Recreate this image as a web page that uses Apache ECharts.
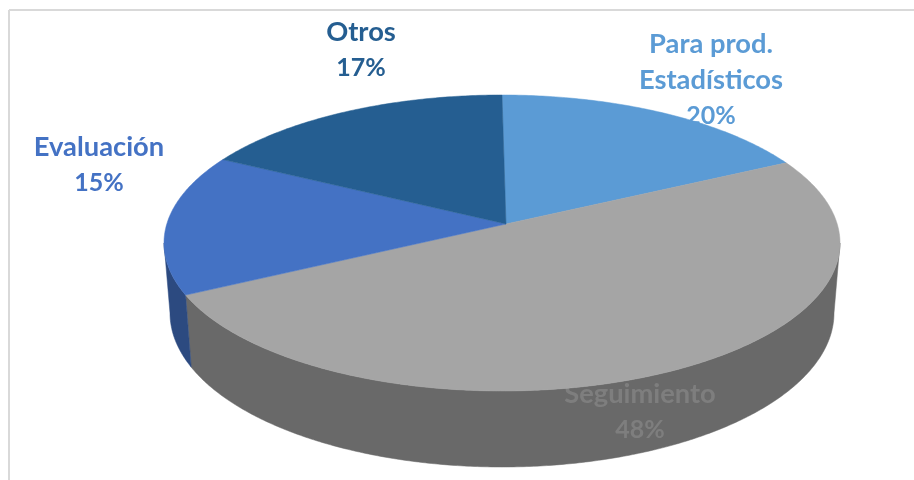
<!DOCTYPE html>
<html>
<head>
<meta charset="utf-8">
<style>html,body{margin:0;padding:0;background:#fff}#c{width:914px;height:480px}</style>
<script src="https://cdn.jsdelivr.net/npm/echarts@6/dist/echarts.min.js"></script>
</head>
<body>
<div id="c"></div>
<script>
const categories = ['Para prod.\nEstadísticos', 'Seguimiento', 'Evaluación', 'Otros'];
const percentages = [20, 48, 15, 17];

const faceColors = ['#5b9bd5', '#a5a5a5', '#4472c4', '#255e91'];
const wallColors = ['#3f6f9c', '#696969', '#2c4a80', '#1a4266'];
const labelColors = ['#5b9bd5', 'rgba(165,165,165,0.35)', '#4472c4', '#255e91'];
const labelCentres = [[711, 80], [640, 412], [99, 165], [361, 50]];

const total = percentages.reduce(function (a, b) { return a + b; }, 0);
const topRim = { cx: 502, cy: 243, rx: 338, ry: 148 };
const lowRim = { cx: 502, cy: 313, rx: 332, ry: 154 };
const apex = [506, 224];
// smooth perspective warp from the pie's own angle to the angle round the drawn ellipse
const warpP = -0.2213, warpQ = -0.1103, warpR = 0.0483;

function warp(a) {
  return a + warpP * Math.sin(a) + warpQ * (1 - Math.cos(a)) + warpR * Math.sin(2 * a);
}
function rimPoint(rim, phi) {
  return [rim.cx + rim.rx * Math.sin(phi), rim.cy - rim.ry * Math.cos(phi)];
}
function rimPath(rim, from, to) {
  const pts = [], steps = Math.max(2, Math.ceil(Math.abs(to - from) / 0.01));
  for (let i = 0; i <= steps; i++) pts.push(rimPoint(rim, from + (to - from) * i / steps));
  return pts;
}
function renderSlice(params, api) {
  const i = params.dataIndex;
  let before = 0;
  for (let k = 0; k < i; k++) before += percentages[k];
  const a0 = warp(before / total * 2 * Math.PI);
  const a1 = warp((before + api.value(0)) / total * 2 * Math.PI);
  const children = [];
  const w0 = Math.max(a0, Math.PI / 2), w1 = Math.min(a1, 3 * Math.PI / 2);
  if (w1 > w0) {
    const wall = rimPath(topRim, w0, w1).concat(rimPath(lowRim, w1, w0));
    children.push({ type: 'polygon', z2: 1, shape: { points: wall },
      style: { fill: wallColors[i], stroke: wallColors[i], lineWidth: 0.5 } });
  }
  const face = [apex].concat(rimPath(topRim, a0, a1));
  children.push({ type: 'polygon', z2: 2, shape: { points: face },
    style: { fill: faceColors[i], stroke: faceColors[i], lineWidth: 0.5 } });
  const nameLines = categories[i].split('\n').map(function (s) { return '{n|' + s + '}'; });
  children.push({ type: 'text', z2: 5, x: labelCentres[i][0], y: labelCentres[i][1],
    style: { text: nameLines.join('\n') + '\n{p|' + api.value(0) + '%}', fill: labelColors[i],
      align: 'center', verticalAlign: 'middle',
      rich: {
        n: { font: 'bold 27.3px Lato', lineHeight: 36, fill: labelColors[i] },
        p: { font: 'bold 25px Lato', lineHeight: 36, fill: labelColors[i] }
      } } });
  return { type: 'group', children: children };
}

const chart = echarts.init(document.getElementById('c'), null, { renderer: 'canvas' });
chart.setOption({
  animation: false,
  backgroundColor: '#ffffff',
  graphic: [
    { type: 'line', shape: { x1: 9, y1: 10, x2: 914, y2: 10 }, style: { stroke: '#d9d9d9', lineWidth: 2 } },
    { type: 'line', shape: { x1: 9, y1: 10, x2: 9, y2: 480 }, style: { stroke: '#d9d9d9', lineWidth: 2 } }
  ],
  series: [{
    type: 'custom',
    coordinateSystem: 'none',
    renderItem: renderSlice,
    data: percentages.map(function (v) { return [v]; })
  }]
});
</script>
</body>
</html>
